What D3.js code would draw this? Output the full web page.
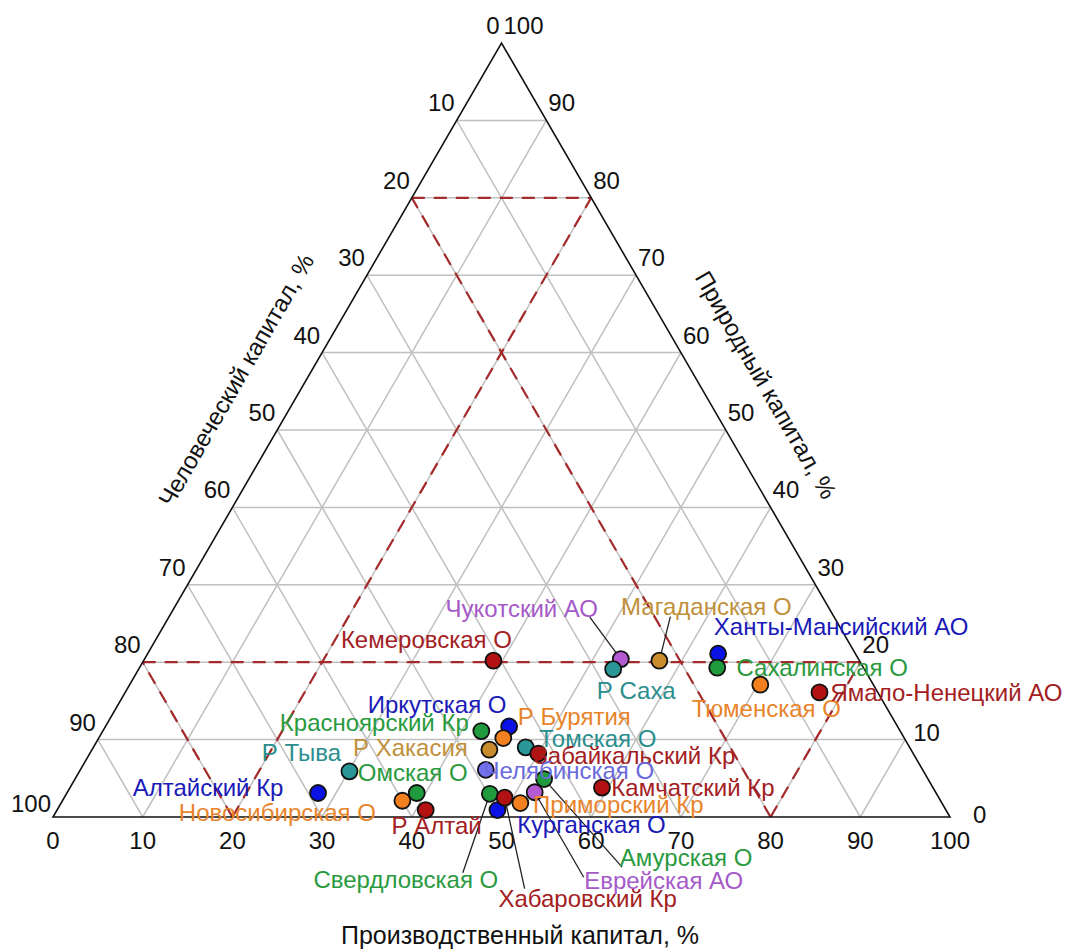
<!DOCTYPE html>
<html><head><meta charset="utf-8">
<script src="https://cdn.jsdelivr.net/npm/d3@7"></script>
<style>
body{margin:0;background:#fff}
text{font-family:"Liberation Sans",Arial,sans-serif}
</style>
</head><body>
<svg id="chart" width="1067" height="952"></svg>
<script>
// ---------- data ----------
const regions = ["Кемеровская О","Чукотский АО","Р Саха","Магаданская О","Ханты-Мансийский АО","Сахалинская О","Тюменская О","Ямало-Ненецкий АО","Иркутская О","Р Бурятия","Красноярский Кр","Р Хакасия","Томская О","Забайкальский Кр","Челябинская О","Р Тыва","Омская О","Алтайский Кр","Новосибирская О","Р Алтай","Камчатский Кр","Свердловская О","Курганская О","Хабаровский Кр","Приморский Кр","Еврейская АО","Амурская О"];
const production = [39.0,53.1,52.9,57.5,63.6,64.4,70.3,77.4,45.0,45.1,42.2,44.3,48.2,50.0,45.2,30.1,39.0,28.0,37.9,41.1,59.3,47.2,49.1,49.1,51.2,52.1,52.3];
const human      = [40.8,26.5,28.0,22.3,15.3,16.3,12.6,6.5,43.3,44.7,46.7,47.0,42.8,41.8,48.7,64.0,57.9,68.9,60.0,58.0,36.9,49.8,50.0,48.4,47.0,44.7,42.8];
const natural    = [20.2,20.4,19.1,20.2,21.1,19.3,17.1,16.1,11.7,10.2,11.1,8.7,9.0,8.2,6.1,5.9,3.1,3.1,2.1,0.9,3.8,3.0,0.9,2.5,1.8,3.2,4.9];
const colorGroup = ["darkred","purple","teal","ochre","blue","green","orange","darkred","blue","orange","green","ochre","teal","darkred","slate","teal","green","blue","orange","darkred","darkred","green","blue","darkred","orange","purple","green"];
const tickValues = [0,10,20,30,40,50,60,70,80,90,100];
const gridValues = [10,20,30,40,50,60,70,80,90];
const zoneValues = [20,80];
const axisTitles = {bottom:"Производственный капитал, %", left:"Человеческий капитал, %", right:"Природный капитал, %"};

// ---------- styles / layout ----------
const pointColor = {darkred:"#b21212",purple:"#b45ad2",teal:"#2a9898",ochre:"#c98c2c",blue:"#0a12e6",green:"#1f9a3c",orange:"#f2801e",slate:"#7272ee"};
const textColor  = {darkred:"#a3201f",purple:"#a55ac8",teal:"#2a8e8e",ochre:"#c0903a",blue:"#1a1ab8",green:"#2a9a40",orange:"#e8842a",slate:"#6a6adc"};
// label centre offsets relative to point (px), and optional leader start offsets
const labelLayout = {
 "Кемеровская О":[-67,-21],"Чукотский АО":[-99,-51,[-31,-42]],"Р Саха":[23,21],"Магаданская О":[47,-54,[11,-44]],
 "Ханты-Мансийский АО":[123,-27],"Сахалинская О":[105,0],"Тюменская О":[6,24],"Ямало-Ненецкий АО":[127,0],
 "Иркутская О":[-72,-22],"Р Бурятия":[71,-21],"Красноярский Кр":[-107,-8],"Р Хакасия":[-79,-2],
 "Томская О":[72,-9,[6,-7]],"Забайкальский Кр":[96,2],"Челябинская О":[83,1],"Р Тыва":[-48,-19],
 "Омская О":[-4,-20],"Алтайский Кр":[-110,-5],"Новосибирская О":[-125,12],"Р Алтай":[11,16],
 "Камчатский Кр":[91,0],"Свердловская О":[-84,86,[-27,79]],"Курганская О":[94,15],"Хабаровский Кр":[83,101,[20,91]],
 "Приморский Кр":[98,2],"Еврейская АО":[129,88,[49,85]],"Амурская О":[142,79,[78,88]]
};

const svg = d3.select("#chart");
svg.append("rect").attr("width",1067).attr("height",952).attr("fill","#fff");

const xs = d3.scaleLinear().domain([0,100]).range([53,950]);   // P + N/2
const ys = d3.scaleLinear().domain([0,100]).range([817,43]);   // N
const px = (P,N) => xs(P + N/2);
const py = (P,N) => ys(N);

const g = svg.append("g");
const seg = (P1,N1,P2,N2) => [[px(P1,N1),py(P1,N1)],[px(P2,N2),py(P2,N2)]];
const line = d3.line();

// grid
const gridSegs = [];
gridValues.forEach(v=>{
  gridSegs.push(seg(0,v,100-v,v));      // natural const
  gridSegs.push(seg(v,0,v,100-v));      // production const
  gridSegs.push(seg(100-v,0,0,100-v));  // human const
});
g.selectAll("path.grid").data(gridSegs).join("path").attr("class","grid")
 .attr("d",line).attr("stroke","#c0c0c0").attr("stroke-width",1.5).attr("fill","none");

// zone dashed lines
const zoneSegs = [];
zoneValues.forEach(v=>{
  zoneSegs.push(seg(0,v,100-v,v));
  zoneSegs.push(seg(v,0,v,100-v));
  zoneSegs.push(seg(100-v,0,0,100-v));
});
g.selectAll("path.zone").data(zoneSegs).join("path").attr("class","zone")
 .attr("d",line).attr("stroke","#a52a2a").attr("stroke-width",2.2).attr("stroke-dasharray","13,9").attr("fill","none");

// triangle
g.append("path").attr("d", line([[px(0,0),py(0,0)],[px(100,0),py(100,0)],[px(0,100),py(0,100)]])+"Z")
 .attr("fill","none").attr("stroke","#111").attr("stroke-width",1.6);

// tick labels
const tickFont = 24;
g.selectAll("text.tb").data(tickValues).join("text").attr("class","tb")
 .attr("x",d=>px(d,0)).attr("y",py(0,0)+32).attr("text-anchor","middle")
 .attr("font-size",tickFont).attr("fill","#111").text(d=>d);
g.selectAll("text.tl").data(tickValues).join("text").attr("class","tl")
 .attr("x",d=>px(0,100-d)-2).attr("y",d=>py(0,100-d)-(d===100?5:9)).attr("text-anchor","end")
 .attr("font-size",tickFont).attr("fill","#111").text(d=>d);
g.selectAll("text.tr").data(tickValues).join("text").attr("class","tr")
 .attr("x",d=>px(100-d,d)+(d===0?23:(d===10?8:2))).attr("y",d=>py(100-d,d)+(d===0?6:(d===10?1:-9)))
 .attr("text-anchor","start").attr("font-size",tickFont).attr("fill","#111").text(d=>d);

// axis titles
svg.append("text").attr("x",520).attr("y",944).attr("text-anchor","middle").attr("font-size",25).attr("fill","#111").text(axisTitles.bottom);
svg.append("text").attr("transform","translate(236,380) rotate(-60)").attr("text-anchor","middle").attr("dy","0.35em").attr("font-size",24).attr("fill","#111").text(axisTitles.left);
svg.append("text").attr("transform","translate(766,385) rotate(60)").attr("text-anchor","middle").attr("dy","0.35em").attr("font-size",24).attr("fill","#111").text(axisTitles.right);

// data rows
const rows = regions.map((r,i)=>({name:r,P:production[i],H:human[i],N:natural[i],c:colorGroup[i]}));
rows.forEach(d=>{d.x=px(d.P,d.N); d.y=py(d.P,d.N);});

// leaders
g.selectAll("line.leader").data(rows.filter(d=>labelLayout[d.name][2])).join("line").attr("class","leader")
 .attr("x1",d=>d.x+labelLayout[d.name][2][0]).attr("y1",d=>d.y+labelLayout[d.name][2][1])
 .attr("x2",d=>d.x).attr("y2",d=>d.y).attr("stroke","#222").attr("stroke-width",1.3);

// points
g.selectAll("circle.pt").data(rows).join("circle").attr("class","pt")
 .attr("cx",d=>d.x).attr("cy",d=>d.y).attr("r",8)
 .attr("fill",d=>pointColor[d.c]).attr("stroke","#111").attr("stroke-width",1.8);

// labels
g.selectAll("text.lbl").data(rows).join("text").attr("class","lbl")
 .attr("x",d=>d.x+labelLayout[d.name][0]).attr("y",d=>d.y+labelLayout[d.name][1])
 .attr("dy","0.35em").attr("text-anchor","middle").attr("font-size",24)
 .attr("fill",d=>textColor[d.c]).text(d=>d.name);
</script>
</body></html>
